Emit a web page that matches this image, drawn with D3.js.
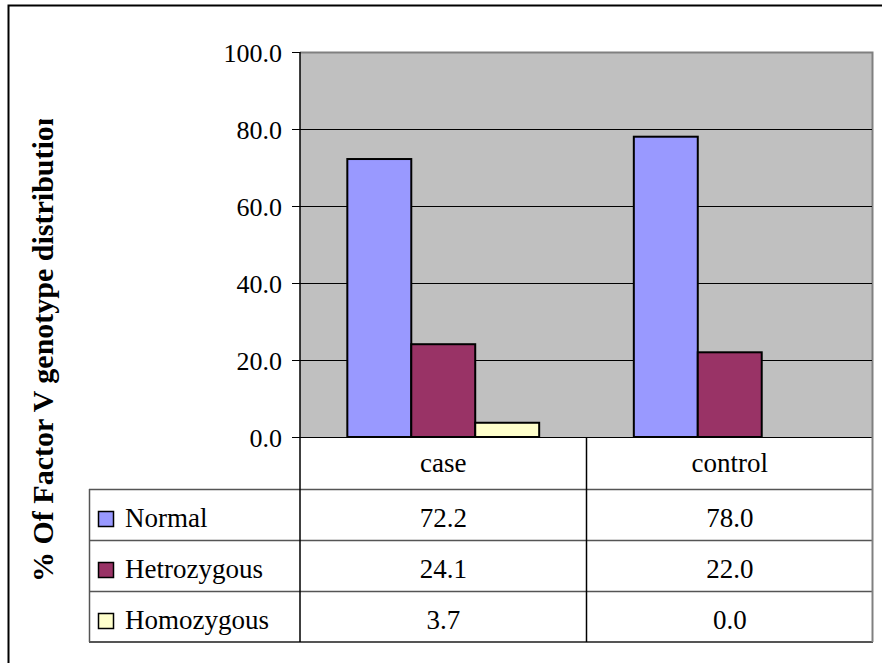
<!DOCTYPE html>
<html>
<head>
<meta charset="utf-8">
<script src="https://cdn.jsdelivr.net/npm/d3@7"></script>
<style>
  html, body { margin: 0; padding: 0; background: #fff; }
  svg { display: block; }
</style>
</head>
<body>
<svg id="chart" width="882" height="663"></svg>
<script>
// ---- data ----
const categories = ["case", "control"];
const seriesNames = ["Normal", "Hetrozygous", "Homozygous"];
const normalValues = [72.2, 78.0];
const hetroValues = [24.1, 22.0];
const homoValues = [3.7, 0.0];
const yTicks = [0, 20, 40, 60, 80, 100];
const yTitle = "% Of Factor V genotype distribution";
const seriesColors = ["#9999ff", "#993366", "#ffffcc"];

const seriesValues = [normalValues, hetroValues, homoValues];
const FONT = "'Liberation Serif', Tinos, 'Times New Roman', 'DejaVu Serif', serif";

// ---- layout ----
const svg = d3.select("#chart");
const plot = { left: 300, right: 873, top: 52, bottom: 437 };
const table = { left: 89, headerBottom: 489, rowH: 51 };

// outer border (extends beyond the view)
svg.append("rect")
  .attr("x", 8.5).attr("y", 5.5).attr("width", 900).attr("height", 700)
  .attr("fill", "none").attr("stroke", "#000").attr("stroke-width", 2);

const y = d3.scaleLinear().domain([0, 100]).range([plot.bottom, plot.top]);
const x0 = d3.scaleBand().domain(categories).range([plot.left, plot.right]).padding(0);
const x1 = d3.scaleBand().domain(seriesNames).range([0, x0.bandwidth()])
  .paddingInner(0).paddingOuter(0.74);

// plot background
svg.append("rect")
  .attr("x", plot.left).attr("y", plot.top)
  .attr("width", plot.right - plot.left).attr("height", plot.bottom - plot.top)
  .attr("fill", "#c0c0c0");
// gray border top & right
svg.append("path")
  .attr("d", `M${plot.left},${plot.top + 0.5}H${plot.right - 0.5}V${plot.bottom}`)
  .attr("fill", "none").attr("stroke", "#808080").attr("stroke-width", 2);

// gridlines
svg.append("g").selectAll("line")
  .data(yTicks.filter(d => d > 0 && d < 100))
  .join("line")
  .attr("x1", plot.left).attr("x2", plot.right - 1)
  .attr("y1", d => Math.round(y(d)) + 0.5).attr("y2", d => Math.round(y(d)) + 0.5)
  .attr("stroke", "#000").attr("stroke-width", 1);

// y axis
const yAxis = d3.axisLeft(y).tickValues(yTicks).tickFormat(d3.format(".1f"))
  .tickSize(8).tickPadding(10);
const gy = svg.append("g").attr("transform", `translate(${plot.left},0)`).call(yAxis);
gy.attr("font-family", null).attr("font-size", null);
gy.select(".domain").remove();
gy.selectAll(".tick line").attr("stroke", "#000");
gy.selectAll(".tick text")
  .style("font-family", FONT)
  .style("font-size", "26px").attr("dy", "0.35em").attr("fill", "#000");

// bars
const barData = [];
categories.forEach((c, ci) => {
  seriesNames.forEach((s, si) => {
    barData.push({ cat: c, series: s, value: seriesValues[si][ci], color: seriesColors[si] });
  });
});
svg.append("g").selectAll("rect")
  .data(barData.filter(d => d.value > 0))
  .join("rect")
  .attr("x", d => x0(d.cat) + x1(d.series))
  .attr("y", d => y(d.value))
  .attr("width", x1.bandwidth())
  .attr("height", d => y(0) - y(d.value))
  .attr("fill", d => d.color)
  .attr("stroke", "#000").attr("stroke-width", 2);

// ---- data table ----
const rowsTop = table.headerBottom;
const tableBottom = rowsTop + table.rowH * seriesNames.length;
const tg = svg.append("g");
// horizontal lines
tg.append("line").attr("x1", plot.left - 8).attr("x2", plot.right)
  .attr("y1", plot.bottom + 0.5).attr("y2", plot.bottom + 0.5)
  .attr("stroke", "#000").attr("stroke-width", 1.2);
seriesNames.forEach((s, i) => {
  const yy = rowsTop + i * table.rowH;
  tg.append("line").attr("x1", table.left).attr("x2", plot.right)
    .attr("y1", yy + 0.5).attr("y2", yy + 0.5)
    .attr("stroke", "#555").attr("stroke-width", 1.5);
});
tg.append("line").attr("x1", table.left).attr("x2", plot.right)
  .attr("y1", tableBottom).attr("y2", tableBottom)
  .attr("stroke", "#555").attr("stroke-width", 2);
// vertical lines
tg.append("line").attr("x1", table.left + 0.5).attr("x2", table.left + 0.5)
  .attr("y1", rowsTop).attr("y2", tableBottom)
  .attr("stroke", "#555").attr("stroke-width", 1.5);
tg.append("line").attr("x1", plot.left).attr("x2", plot.left)
  .attr("y1", plot.top).attr("y2", tableBottom)
  .attr("stroke", "#000").attr("stroke-width", 1.5);
tg.append("line").attr("x1", x0("control")).attr("x2", x0("control"))
  .attr("y1", plot.bottom).attr("y2", tableBottom)
  .attr("stroke", "#000").attr("stroke-width", 1.5);
tg.append("line").attr("x1", plot.right - 0.5).attr("x2", plot.right - 0.5)
  .attr("y1", plot.bottom).attr("y2", tableBottom)
  .attr("stroke", "#808080").attr("stroke-width", 2);

// header labels
tg.selectAll("text.cat").data(categories).join("text")
  .attr("class", "cat")
  .attr("x", d => x0(d) + x0.bandwidth() / 2)
  .attr("y", (plot.bottom + rowsTop) / 2 + 9)
  .attr("text-anchor", "middle")
  .style("font-family", FONT).style("font-size", "27px")
  .text(d => d);

// rows
const fmt = d3.format(".1f");
seriesNames.forEach((s, si) => {
  const cy = rowsTop + si * table.rowH + table.rowH / 2;
  tg.append("rect")
    .attr("x", 98.5).attr("y", cy - 3)
    .attr("width", 15).attr("height", 15)
    .attr("fill", seriesColors[si]).attr("stroke", "#000").attr("stroke-width", 1.5);
  tg.append("text").attr("x", 125).attr("y", cy + 12)
    .style("font-family", FONT).style("font-size", "27px").text(s);
  categories.forEach((c, ci) => {
    tg.append("text")
      .attr("x", x0(c) + x0.bandwidth() / 2).attr("y", cy + 12)
      .attr("text-anchor", "middle")
      .style("font-family", FONT).style("font-size", "27px")
      .text(fmt(seriesValues[si][ci]));
  });
});

// y title (clipped at top as in the original)
svg.append("clipPath").attr("id", "titleClip")
  .append("rect").attr("x", 0).attr("y", 119).attr("width", 120).attr("height", 600);
svg.append("g").attr("clip-path", "url(#titleClip)")
  .append("text")
  .attr("transform", "translate(53,582) rotate(-90)")
  .attr("text-anchor", "start")
  .style("font-family", FONT).style("font-size", "30px").style("font-weight", "bold")
  .text(yTitle);
</script>
</body>
</html>
